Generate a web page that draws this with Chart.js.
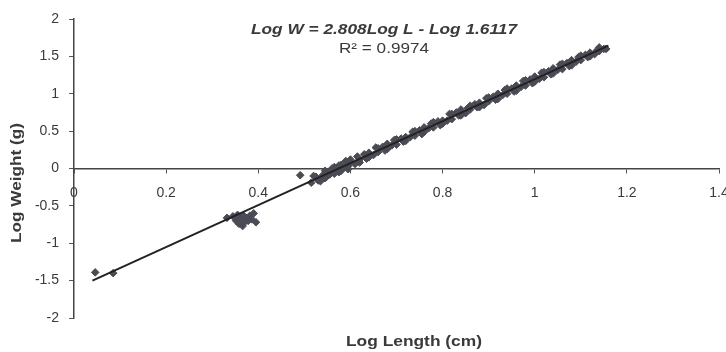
<!DOCTYPE html>
<html>
<head>
<meta charset="utf-8">
<script src="https://cdn.jsdelivr.net/npm/chart.js@4"></script>
<style>
  html, body { margin: 0; padding: 0; background: #fff; }
  #wrap { width: 726px; height: 352px; }
</style>
</head>
<body>
<div id="wrap"><canvas id="myChart"></canvas></div>
<script>
// measured fish: log length vs log weight
const logLength = [
  0.046, 0.085,
  0.332, 0.345, 0.352, 0.358, 0.362, 0.366, 0.37, 0.374, 0.378, 0.382, 0.386, 0.39, 0.368,
  0.491,
  0.515, 0.525, 0.53, 0.54, 0.545, 0.55, 0.555, 0.56, 0.565, 0.57, 0.575, 0.58, 0.585, 0.59, 0.595,
  0.6, 0.61, 0.615, 0.62, 0.63, 0.635, 0.64, 0.65, 0.655, 0.66, 0.67, 0.675, 0.68, 0.69, 0.695,
  0.7, 0.71, 0.715, 0.72, 0.73, 0.735, 0.74, 0.75, 0.755, 0.76, 0.77, 0.775, 0.78, 0.79, 0.795,
  0.8, 0.81, 0.815, 0.82, 0.83, 0.835, 0.84, 0.85, 0.855, 0.86, 0.87, 0.875, 0.88, 0.89, 0.895,
  0.9, 0.91, 0.915, 0.92, 0.93, 0.935, 0.94, 0.95, 0.955, 0.96, 0.97, 0.975, 0.98, 0.99, 0.995,
  1.0, 1.01, 1.015, 1.02, 1.03, 1.035, 1.04, 1.05, 1.055, 1.06, 1.07, 1.075, 1.08, 1.09, 1.095,
  1.1, 1.11, 1.115, 1.12, 1.13, 1.135, 1.14, 1.15, 1.155,
  0.52, 0.535, 0.55, 0.565, 0.58, 0.6, 0.62, 0.64, 0.66, 0.68, 0.7, 0.72, 0.74, 0.76, 0.78,
  0.8, 0.82, 0.84, 0.86, 0.88, 0.9, 0.92, 0.94, 0.96, 0.98, 1.0, 1.02, 1.04, 1.06, 1.08,
  1.1, 1.12, 1.14, 0.545, 0.575, 0.595, 0.355, 0.395
];
const logWeight = [
  -1.39, -1.40,
  -0.66, -0.64, -0.70, -0.74, -0.68, -0.77, -0.72, -0.66, -0.70, -0.63, -0.68, -0.60, -0.63,
  -0.09,
  -0.19, -0.11, -0.16, -0.09, -0.13, -0.05, -0.08, 0.00, -0.07, 0.00, -0.05, 0.05, 0.01, 0.10, 0.03,
  0.08, 0.06, 0.16, 0.12, 0.19, 0.13, 0.21, 0.18, 0.28, 0.22, 0.29, 0.24, 0.33, 0.31, 0.38,
  0.32, 0.40, 0.36, 0.42, 0.42, 0.49, 0.44, 0.51, 0.46, 0.55, 0.54, 0.60, 0.55, 0.63, 0.58,
  0.64, 0.64, 0.73, 0.66, 0.75, 0.71, 0.79, 0.74, 0.81, 0.79, 0.86, 0.82, 0.88, 0.85, 0.94,
  0.90, 0.96, 0.92, 1.00, 0.98, 1.05, 1.00, 1.07, 1.03, 1.11, 1.09, 1.17, 1.11, 1.19, 1.14,
  1.23, 1.20, 1.28, 1.22, 1.30, 1.26, 1.34, 1.32, 1.39, 1.33, 1.41, 1.37, 1.45, 1.43, 1.49,
  1.45, 1.52, 1.49, 1.55, 1.53, 1.58, 1.57, 1.60, 1.60,
  -0.10, -0.17, -0.10, 0.02, -0.03, 0.12, 0.08, 0.15, 0.27, 0.26, 0.39, 0.37, 0.50, 0.49, 0.62,
  0.60, 0.73, 0.71, 0.84, 0.82, 0.95, 0.93, 1.07, 1.04, 1.18, 1.16, 1.29, 1.27, 1.40, 1.38,
  1.51, 1.50, 1.62, -0.03, 0.04, -0.01, -0.62, -0.72
];

// fitted trend line end points
const trendX = [0.04, 1.16];
const trendY = [-1.50, 1.645];

const xTicks = [0, 0.2, 0.4, 0.6, 0.8, 1, 1.2, 1.4];
const yTicks = [-2, -1.5, -1, -0.5, 0, 0.5, 1, 1.5, 2];

const equationText = "Log W = 2.808Log L - Log 1.6117";
const r2Text = "R\u00b2 = 0.9974";
const xTitle = "Log Length (cm)";
const yTitle = "Log Weight (g)";

const FONT = "'Liberation Sans', Arial, sans-serif";
const TEXT_COLOR = "#3a3a3a";

const points = logLength.map((x, i) => ({ x: x, y: logWeight[i] }));
const trend = trendX.map((x, i) => ({ x: x, y: trendY[i] }));

// draws text squeezed or stretched to a given width
function fitText(ctx, text, cx, cy, width) {
  const w = ctx.measureText(text).width;
  ctx.save();
  ctx.translate(cx, cy);
  ctx.scale(width / w, 1);
  ctx.fillText(text, 0, 0);
  ctx.restore();
}

const textPlugin = {
  id: "textPlugin",
  afterDraw(chart) {
    const ctx = chart.ctx;
    ctx.save();
    ctx.fillStyle = TEXT_COLOR;
    ctx.textAlign = "center";
    ctx.textBaseline = "middle";

    ctx.font = "italic bold 14px " + FONT;
    fitText(ctx, equationText, 384, 30, 266);
    ctx.font = "14px " + FONT;
    fitText(ctx, r2Text, 384, 49, 90);

    ctx.font = "bold 14px " + FONT;
    fitText(ctx, xTitle, 414, 342, 136);

    ctx.translate(17, 183);
    ctx.rotate(-Math.PI / 2);
    fitText(ctx, yTitle, 0, 0, 120);
    ctx.restore();
  },
};

const ctx = document.querySelector("#myChart");

new Chart(ctx, {
  type: "scatter",
  data: {
    datasets: [
      {
        label: "Data",
        data: points,
        pointStyle: "rectRot",
        pointRadius: 3.8,
        backgroundColor: "#4a4b55",
        borderColor: "#4a4b55",
        borderWidth: 1,
        order: 2,
      },
      {
        label: "Trend",
        type: "line",
        data: trend,
        borderColor: "#222",
        borderWidth: 2,
        pointRadius: 0,
        fill: false,
        order: 1,
      },
    ],
  },
  options: {
    responsive: true,
    maintainAspectRatio: false,
    animation: false,
    layout: {
      padding: { left: 0, top: 19, right: 7, bottom: 34 },
    },
    plugins: {
      legend: { display: false },
      tooltip: { enabled: false },
    },
    scales: {
      x: {
        type: "linear",
        position: { y: 0 },
        min: 0,
        max: 1.4,
        afterBuildTicks: (axis) => {
          axis.ticks = xTicks.map((v) => ({ value: v }));
        },
        afterFit: (axis) => {
          // the last label may run off the edge, as in the original
          axis.paddingLeft = 0;
          axis.paddingRight = 0;
        },
        ticks: {
          color: TEXT_COLOR,
          font: { family: FONT, size: 14 },
          padding: 12,
          callback: (v) => String(v),
        },
        grid: {
          drawOnChartArea: false,
          drawTicks: true,
          tickLength: 4,
          color: "#555",
        },
        border: { color: "#444", width: 1.5 },
      },
      y: {
        type: "linear",
        position: "left",
        min: -2,
        max: 2,
        afterBuildTicks: (axis) => {
          axis.ticks = yTicks.map((v) => ({ value: v }));
        },
        afterFit: (axis) => {
          axis.width = 74;
        },
        ticks: {
          color: TEXT_COLOR,
          font: { family: FONT, size: 14 },
          padding: 10,
          callback: (v) => String(v),
        },
        grid: {
          drawOnChartArea: false,
          drawTicks: true,
          tickLength: 5,
          color: "#555",
        },
        border: { color: "#444", width: 1.5 },
      },
    },
  },
  plugins: [textPlugin],
});
</script>
</body>
</html>
